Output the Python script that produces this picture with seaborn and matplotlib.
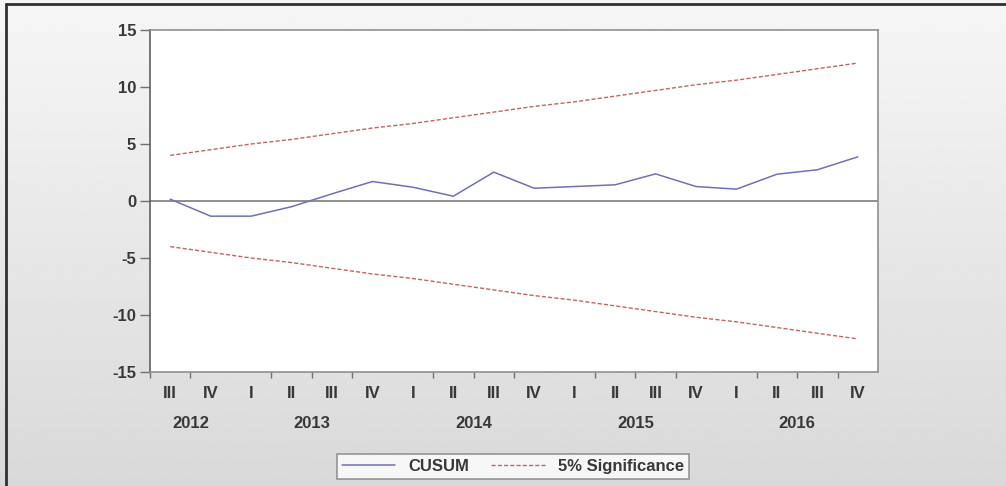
import numpy as np
import pandas as pd
import seaborn as sns
import matplotlib.pyplot as plt
from matplotlib.lines import Line2D
import matplotlib.transforms as mtransforms

# quarters from 2012 III to 2016 IV
quarters = ['III', 'IV',
            'I', 'II', 'III', 'IV',
            'I', 'II', 'III', 'IV',
            'I', 'II', 'III', 'IV',
            'I', 'II', 'III', 'IV']
years = ['2012', '2013', '2014', '2015', '2016']
cusum = [0.16, -1.33, -1.33, -0.5, 0.63, 1.71, 1.21, 0.42, 2.53,
         1.12, 1.27, 1.42, 2.38, 1.27, 1.04, 2.35, 2.74, 3.87]
upper = [4.0, 4.5, 5.0, 5.4, 5.9, 6.4, 6.8, 7.3, 7.8,
         8.3, 8.7, 9.2, 9.7, 10.2, 10.6, 11.1, 11.6, 12.1]
lower = [-4.0, -4.5, -5.0, -5.4, -5.9, -6.4, -6.8, -7.3, -7.8,
         -8.3, -8.7, -9.2, -9.7, -10.2, -10.6, -11.1, -11.6, -12.1]

df = pd.DataFrame({'t': np.arange(len(quarters)), 'cusum': cusum,
                   'upper': upper, 'lower': lower})

sns.set_style("white")
plt.rcParams['font.family'] = ['Liberation Sans', 'DejaVu Sans']
plt.rcParams['axes.unicode_minus'] = False

FS = 12
TXT = '#383838'

fig = plt.figure(figsize=(10.06, 4.86), dpi=100)

# gray gradient background
bg = fig.add_axes([0, 0, 1, 1], zorder=-10)
grad = np.linspace(0.965, 0.85, 256).reshape(-1, 1)
bg.imshow(grad, aspect='auto', cmap='gray', vmin=0, vmax=1, extent=[0, 1, 0, 1])
bg.set_axis_off()
fig.add_artist(Line2D([6 / 1006, 1], [1 - 4 / 486, 1 - 4 / 486], color='#303030', lw=2))
fig.add_artist(Line2D([6 / 1006, 6 / 1006], [0, 1 - 4 / 486], color='#303030', lw=2))

ax = fig.add_axes([150 / 1006, 1 - 372 / 486, 728 / 1006, 342 / 486])
ax.set_facecolor('white')

blue = '#6f6fbd'
red = '#c46464'
ax.axhline(0, color='#707070', lw=1.1, zorder=1)
sns.lineplot(data=df, x='t', y='cusum', ax=ax, color=blue, lw=1.1, zorder=3)
sns.lineplot(data=df, x='t', y='upper', ax=ax, color=red, lw=1.0, ls=(0, (3, 1.5)), zorder=2)
sns.lineplot(data=df, x='t', y='lower', ax=ax, color=red, lw=1.0, ls=(0, (3, 1.5)), zorder=2)

n = len(quarters)
ax.set_xlim(-0.5, n - 0.5)
ax.set_ylim(-15, 15)
ax.set_yticks([-15, -10, -5, 0, 5, 10, 15])
ax.set_xlabel('')
ax.set_ylabel('')

# tick marks at quarter boundaries, longer ones at year boundaries
bounds = np.arange(n + 1) - 0.5
year_bounds = [1.5, 5.5, 9.5, 13.5, 17.5]
ax.set_xticks(year_bounds)
ax.set_xticklabels([])
ax.set_xticks([b for b in bounds if b not in year_bounds], minor=True)
ax.tick_params(axis='x', which='major', length=7, width=1, color='#707070', direction='out')
ax.tick_params(axis='x', which='minor', length=4, width=1, color='#707070', direction='out', bottom=True)
ax.tick_params(axis='y', length=7, width=1, color='#707070', direction='out', left=True,
               labelsize=FS, labelcolor=TXT, pad=3)
for lab in ax.get_yticklabels():
    lab.set_fontweight('bold')

trans = mtransforms.blended_transform_factory(ax.transData, fig.transFigure)
for i, q in enumerate(quarters):
    fig.text(i, 1 - 393 / 486, q, transform=trans, ha='center', va='center',
             fontsize=FS, fontweight='bold', color=TXT)
year_centers = [0.5, 3.5, 7.5, 11.5, 15.5]
for yc, yr in zip(year_centers, years):
    fig.text(yc, 1 - 423 / 486, yr, transform=trans, ha='center', va='center',
             fontsize=FS, fontweight='bold', color=TXT)

for side in ['top', 'right', 'bottom']:
    ax.spines[side].set_color('#909090')
    ax.spines[side].set_linewidth(1.2)
ax.spines['left'].set_color('#606060')
ax.spines['left'].set_linewidth(1.2)

handles = [Line2D([], [], color=blue, lw=1.1),
           Line2D([], [], color=red, lw=1.0, ls=(0, (3, 1.5)))]
leg = fig.legend(handles, ['CUSUM', '5% Significance'], ncol=2,
                 loc='center', bbox_to_anchor=(513 / 1006, 1 - 466 / 486),
                 frameon=True, fancybox=False, edgecolor='#808080',
                 handlelength=3.2, columnspacing=1.3, borderpad=0.3,
                 handletextpad=0.8, prop={'size': FS, 'weight': 'bold'})
leg.get_frame().set_linewidth(1.2)
for txt in leg.get_texts():
    txt.set_color(TXT)

fig.savefig('out.png', dpi=100)
